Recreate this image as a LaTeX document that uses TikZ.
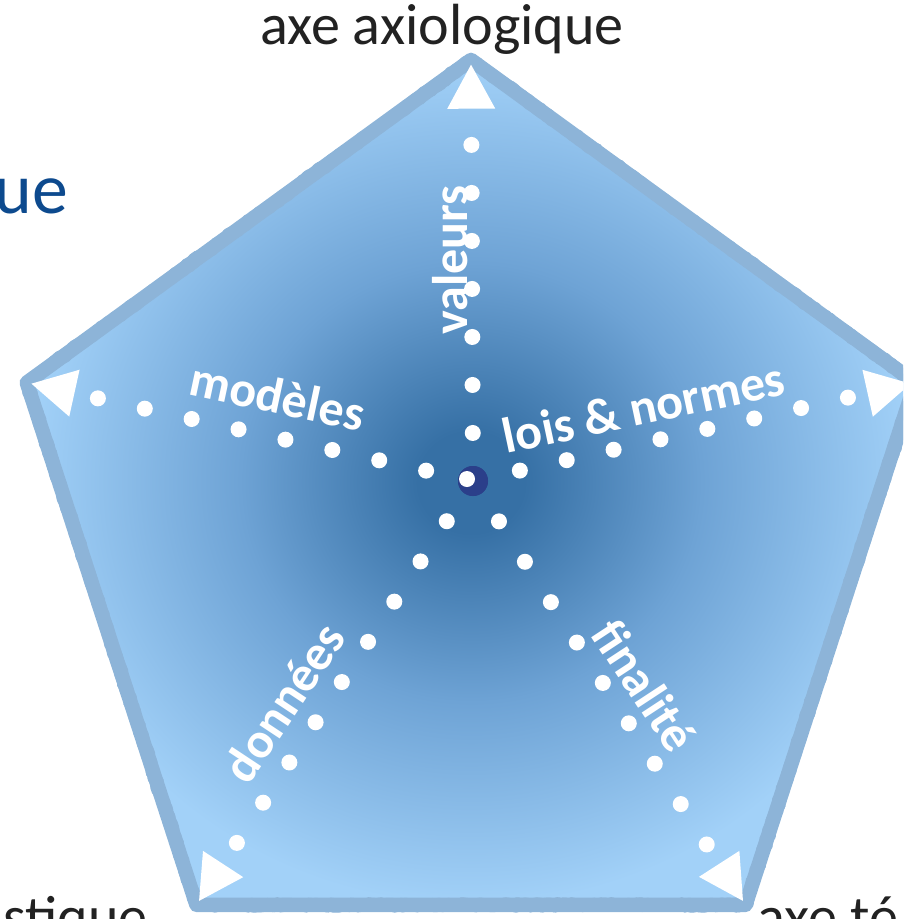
\documentclass[tikz,border=0pt]{standalone}
\usepackage{fontspec}
\setmainfont{Carlito}
\usetikzlibrary{arrows.meta,calc,shapes.geometric,decorations.pathmorphing}
\definecolor{deep}{HTML}{3670A5}
\definecolor{mid}{HTML}{6EA3D5}
\definecolor{sky}{HTML}{A2D1F8}
\definecolor{chalk}{HTML}{8DB4D8}
\definecolor{navy}{HTML}{2B3F8A}
\definecolor{title}{HTML}{0D4A8E}
\definecolor{ink}{HTML}{222222}
\pgfdeclareradialshading{glow}{\pgfpoint{0bp}{0bp}}{color(0bp)=(deep); color(3bp)=(deep); color(13bp)=(mid); color(25bp)=(sky); color(100bp)=(sky)}
\tikzset{rim/.style={regular polygon,regular polygon sides=5,minimum size=23.35cm,inner sep=0pt,outer sep=0pt,shading=glow,draw=chalk,line width=0.36cm,line join=round},
  chalky/.style={draw=chalk,line width=0.3cm,line join=round,decorate,decoration={random steps,segment length=2pt,amplitude=1.3pt}},
  axis/.style={draw=white,line width=0.4cm,line cap=round,dash pattern=on 0pt off 1.2cm,-{Triangle[length=1.1cm,width=1.2cm,line width=0pt]},shorten >=0.12cm},
  tag/.style={text=white,font=\fontsize{35.6}{40}\selectfont\bfseries,anchor=base,inner sep=0pt},
  axe/.style={text=ink,font=\fontsize{41.3}{46}\selectfont,inner sep=0pt}}

\begin{document}
\begin{tikzpicture}[x=0.025cm,y=-0.025cm]
\useasboundingbox (0,0) rectangle (903,919);
\clip (0,0) rectangle (903,919);
\node[rim] (rim) at (471,527) {};
% rough chalk edge over the border
\draw[chalky] (rim.corner 1) -- (rim.corner 2) -- (rim.corner 3) -- (rim.corner 4) -- (rim.corner 5) -- cycle;
\node[circle,fill=navy,minimum size=0.75cm,inner sep=0pt] (hub) at (473,481) {};
% five axes, from the hub out to the corners
\draw[axis] (hub.center) -- (rim.corner 1);
\draw[axis] (hub.center) -- (rim.corner 2);
\draw[axis] (hub.center) -- (rim.corner 3);
\draw[axis] (hub.center) -- (rim.corner 4);
\draw[axis] (hub.center) -- (rim.corner 5);
\node[circle,fill=navy,minimum size=0.75cm,inner sep=0pt] (hubring) at (hub.center) {};
\node[circle,fill=white,minimum size=0.4cm,inner sep=0pt] (hubspot) at (467,479) {};
\node[tag,rotate=90] (valeurs) at (467,260) {valeurs};
\node[tag,rotate=-12] (modeles) at (274,413) {modèles};
\node[tag,rotate=12] (lois) at (647,424) {lois \& normes};
\node[tag,rotate=56.5] (donnees) at (298,712) {données};
\node[tag,rotate=-56.7] (finalite) at (630,695) {finalité};
\node[axe,anchor=base] (axio) at (442,45) {axe axiologique};
\node[axe,anchor=base east,text=title,font=\fontsize{51}{56}\selectfont] (ue) at (68,213) {ue};
\node[axe,anchor=base east] (stique) at (148,936) {stique};
\node[axe,anchor=base west] (telo) at (757,936) {axe té};
\end{tikzpicture}
\end{document}
